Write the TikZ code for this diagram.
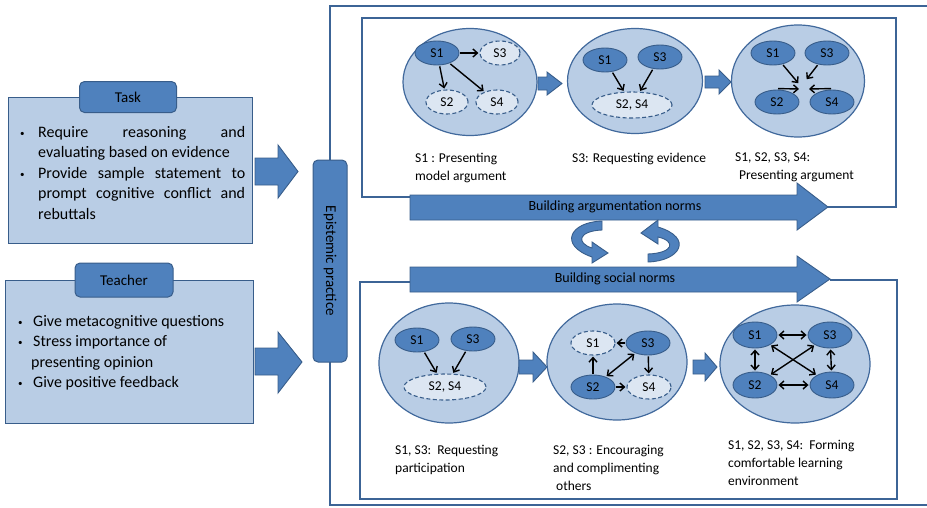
\documentclass[tikz,border=0pt]{standalone}
\usepackage{fontspec}
\setmainfont{Carlito}
\usetikzlibrary{shapes.geometric,arrows.meta}
\definecolor{frameblue}{HTML}{3C6496}
\definecolor{ringblue}{HTML}{41699C}
\definecolor{grpfill}{HTML}{B9CDE5}
\definecolor{midblue}{HTML}{4F81BD}
\definecolor{darkblue}{HTML}{385D8A}
\definecolor{paleblue}{HTML}{DCE6F2}
\newcommand{\bul}[1][18pt]{\makebox[#1][l]{\raisebox{1pt}{\fontsize{9}{9}\selectfont\textbullet}}}
\newcommand{\jline}[1]{\makebox[207pt][s]{#1}}

\begin{document}
\begin{tikzpicture}[x=1pt,y=-1pt,
  frame/.style={draw=frameblue,line width=1.6pt},
  group/.style={ellipse,draw=ringblue,line width=1.2pt,fill=grpfill,inner sep=0pt},
  stud/.style={ellipse,draw=darkblue,line width=0.9pt,fill=midblue,inner sep=0pt,
    minimum width=44pt,minimum height=24pt,font=\fontsize{13.5}{14}\selectfont},
  silent/.style={stud,fill=paleblue,dash pattern=on 4pt off 2.5pt,line width=1.1pt},
  talk/.style={-{Straight Barb[length=4.5pt,width=8pt]},line width=1.4pt,shorten >=1pt,shorten <=1pt},
  talkboth/.style={talk,{Straight Barb[length=4.5pt,width=8pt]}-{Straight Barb[length=4.5pt,width=8pt]}},
  blk/.style={draw=darkblue,fill=midblue,line width=0.9pt},
  box/.style={draw=darkblue,fill=grpfill,line width=1pt,inner sep=0pt},
  tab/.style={draw=darkblue,fill=midblue,line width=1pt,rounded corners=5pt,inner sep=0pt,
    font=\fontsize{15}{15}\selectfont},
  lbl/.style={inner sep=0pt,align=left,anchor=north west,font=\fontsize{13.5}{18}\selectfont},
  boxtxt/.style={inner sep=0pt,align=left,anchor=north west,font=\fontsize{16}{20.5}\selectfont}]
  \useasboundingbox (0,0) rectangle (927,507);
  % Ramar
  \draw[frame] (330,6) rectangle (929,505);
  \draw[frame] (410,197) -| (362,18) -| (896,207) -- (828,207);
  \draw[frame] (410,282) -| (360,499) -| (897,280) -- (830,280);
  % Task
  \node[box,minimum width=244pt,minimum height=146pt] (taskbox) at (130,170) {};
  \node[tab,minimum width=97pt,minimum height=31pt] (tasktab) at (128,97) {Task};
  \node[boxtxt] (tasktxt) at (20,126) {\bul\jline{Require reasoning and}\\
    \hspace*{18pt}evaluating based on evidence\\
    \bul\jline{Provide sample statement to}\\
    \hspace*{18pt}\jline{prompt cognitive conflict and}\\
    \hspace*{18pt}rebuttals};
  \draw[blk] (255,158) -- (278,158) -- (278,145) -- (298,171.5) -- (278,198) -- (278,185) -- (255,185) -- cycle;
  % Teacher
  \node[box,minimum width=248pt,minimum height=143pt] (teachbox) at (129,351.5) {};
  \node[tab,minimum width=98pt,minimum height=34pt] (teachtab) at (124,280) {Teacher};
  \node[boxtxt] (teachtxt) at (18,315) {\bul[15pt]Give metacognitive questions\\
    \bul[15pt]Stress importance of\\
    \hspace*{13pt}presenting opinion\\
    \bul[15pt]Give positive feedback};
  \draw[blk] (255,348) -- (278,348) -- (278,332) -- (302,362) -- (278,393) -- (278,375) -- (255,375) -- cycle;
  % Epistemic practice
  \node[tab,rotate=-90,minimum width=202pt,minimum height=34pt] (epist) at (330,261) {Epistemic practice};
  % Normpilar
  \draw[blk] (410,195) -- (797,195) -- (797,183) -- (828,207) -- (797,230) -- (797,220) -- (410,220) -- cycle;
  \node[font=\fontsize{14}{14}\selectfont] (argtxt) at (615,207) {Building argumentation norms};
  \draw[blk] (410,267) -- (797,267) -- (797,256) -- (830,279) -- (797,302) -- (797,292) -- (410,292) -- cycle;
  \node[font=\fontsize{14}{14}\selectfont] (soctxt) at (615,279) {Building social norms};
  % Cirkelpilar
  \draw[blk] (602,221) .. controls (570,222) and (558,245) .. (592,257) -- (592,263) -- (608,253)
    -- (592,242) -- (592,248) .. controls (576,243) and (578,231) .. (602,230) -- cycle;
  \draw[blk] (648,262) .. controls (680,261) and (694,238) .. (658,227) -- (658,220) -- (641,233)
    -- (658,244) -- (658,237) .. controls (676,241) and (674,253) .. (648,254) -- cycle;

  % Cirkel 1
  \node[group,minimum width=134pt,minimum height=107pt] (c1) at (470,82) {};
  \node[stud] (c1s1) at (437,53) {S1};
  \node[silent,minimum width=40pt] (c1s3) at (500,53) {S3};
  \node[silent,minimum width=42pt] (c1s2) at (447,102) {S2};
  \node[silent,minimum width=42pt] (c1s4) at (497,102) {S4};
  \foreach \b in {c1s3,c1s2,c1s4}
    \draw[talk] (c1s1) -- (\b);
  \draw[blk] (538,77) -- (547,77) -- (547,72) -- (562,83.5) -- (547,95) -- (547,90) -- (538,90) -- cycle;
  % Cirkel 2
  \node[group,minimum width=135pt,minimum height=105pt] (c2) at (635,81) {};
  \node[stud] (c2s1) at (605,60) {S1};
  \node[stud] (c2s3) at (660,57) {S3};
  \node[silent,minimum width=80pt,minimum height=26pt] (c2s24) at (632,105) {S2, S4};
  \draw[talk] (c2s1) -- (c2s24);
  \draw[talk] (c2s3) -- (c2s24);
  \draw[blk] (705,76) -- (719,76) -- (719,70) -- (731,82) -- (719,94) -- (719,88) -- (705,88) -- cycle;
  % Cirkel 3
  \node[group,minimum width=133pt,minimum height=112pt] (c3) at (798,81) {};
  \node[stud] (c3s1) at (773,53) {S1};
  \node[stud] (c3s3) at (827,53) {S3};
  \node[stud] (c3s2) at (777,102) {S2};
  \node[stud] (c3s4) at (832,102) {S4};
  \coordinate (c3a) at (799,84);
  \coordinate (c3b) at (806,80);
  \coordinate (c3c) at (800,89);
  \coordinate (c3d) at (808,89);
  \draw[talk] (c3s1) -- (c3a);
  \draw[talk] (c3s3) -- (c3b);
  \draw[talk] (c3s2.north) ++(0,-1) -- (c3c);
  \draw[talk] (c3s4.north) ++(0,-1) -- (c3d);
  % Texter uppe
  \node[lbl] (lab1) at (415,153) {S1 : Presenting\\model argument};
  \node[lbl] (lab2) at (572,153) {S3: Requesting evidence};
  \node[lbl] (lab3) at (735,153) {S1, S2, S3, S4:\\\hspace*{4pt}Presenting argument};

  % Cirkel 4
  \node[group,minimum width=140pt,minimum height=120pt] (c4) at (449,363) {};
  \node[stud] (c4s1) at (417,340) {S1};
  \node[stud] (c4s3) at (473,339) {S3};
  \node[silent,minimum width=82pt,minimum height=26pt] (c4s24) at (445,387) {S2, S4};
  \draw[talk] (c4s1) -- (c4s24);
  \draw[talk] (c4s3) -- (c4s24);
  \draw[blk] (519,360) -- (533,360) -- (533,352) -- (547,367) -- (533,382) -- (533,374) -- (519,374) -- cycle;
  % Cirkel 5
  \node[group,minimum width=140pt,minimum height=116pt] (c5) at (617,362) {};
  \node[silent] (c5s1) at (593,343) {S1};
  \node[stud] (c5s3) at (648,343) {S3};
  \node[stud] (c5s2) at (593,387) {S2};
  \node[silent] (c5s4) at (649,387) {S4};
  \draw[talk] (c5s2) -- (c5s1);
  \draw[talk] (c5s3) -- (c5s1);
  \draw[talkboth] (c5s3) -- (c5s2);
  \draw[talk] (c5s3) -- (c5s4);
  \draw[talk] (c5s2) -- (c5s4);
  \draw[blk] (693,360) -- (705,360) -- (705,353) -- (717,367) -- (705,381) -- (705,374) -- (693,374) -- cycle;
  % Cirkel 6
  \node[group,minimum width=150pt,minimum height=118pt] (c6) at (795,364) {};
  \node[stud,minimum height=26pt] (c6s1) at (755,335) {S1};
  \node[stud,minimum height=26pt] (c6s3) at (830,335) {S3};
  \node[stud,minimum height=26pt] (c6s2) at (755,385) {S2};
  \node[stud,minimum height=26pt] (c6s4) at (832,385) {S4};
  \foreach \a/\b in {s1/s3,s2/s4,s1/s2,s3/s4,s1/s4,s3/s2}
    \draw[talkboth] (c6\a) -- (c6\b);
  % Texter nere
  \node[lbl] (lab4) at (395,445) {S1, S3:\hspace{6pt}Requesting\\participation};
  \node[lbl] (lab5) at (553,445) {S2, S3 : Encouraging\\and complimenting\\\hspace*{3pt}others};
  \node[lbl] (lab6) at (728,440) {S1, S2, S3, S4:\hspace{6pt}Forming\\comfortable learning\\environment};
\end{tikzpicture}
\end{document}
